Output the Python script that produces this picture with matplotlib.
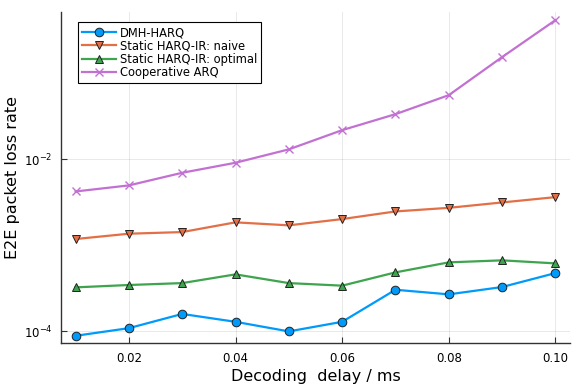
import matplotlib
matplotlib.use("Agg")
import matplotlib.pyplot as plt
from matplotlib.ticker import FixedLocator, NullLocator, LogFormatterMathtext

delay = [0.01, 0.02, 0.03, 0.04, 0.05, 0.06, 0.07, 0.08, 0.09, 0.10]
dmh_harq = [8.8e-5, 1.08e-4, 1.58e-4, 1.28e-4, 9.9e-5, 1.28e-4, 3.02e-4, 2.67e-4, 3.25e-4, 4.72e-4]
static_naive = [1.175e-3, 1.355e-3, 1.416e-3, 1.837e-3, 1.695e-3, 2.005e-3, 2.46e-3, 2.71e-3, 3.13e-3, 3.61e-3]
static_optimal = [3.22e-4, 3.43e-4, 3.61e-4, 4.56e-4, 3.61e-4, 3.37e-4, 4.81e-4, 6.29e-4, 6.64e-4, 6.12e-4]
coop_arq = [4.2e-3, 4.94e-3, 6.93e-3, 9.06e-3, 1.297e-2, 2.17e-2, 3.33e-2, 5.54e-2, 0.1535, 0.413]

labels = ["DMH-HARQ", "Static HARQ-IR: naive", "Static HARQ-IR: optimal", "Cooperative ARQ"]
colors = ["#009AFA", "#E36F47", "#3EA44E", "#C271D2"]
markers = ["o", "v", "^", "x"]
xticks = [0.02, 0.04, 0.06, 0.08, 0.10]
xticklabels = ["0.02", "0.04", "0.06", "0.08", "0.10"]
yticks = [1e-4, 1e-2]

fig = plt.figure(figsize=(5.81, 3.88), dpi=100)
ax = fig.add_axes([0.105, 0.1147, 0.876, 0.854])

series = [dmh_harq, static_naive, static_optimal, coop_arq]
for s, lab, c, m in zip(series, labels, colors, markers):
    if m == "x":
        ax.plot(delay, s, color=c, lw=1.6, marker=m, ms=6, mec=c, mew=1.0, label=lab, zorder=3)
    else:
        ax.plot(delay, s, color=c, lw=1.6, marker=m, ms=6.2, mfc=c, mec="#222222", mew=0.7, label=lab, zorder=3)

ax.set_yscale("log")
ax.set_xlim(0.00727, 0.10273)
ax.set_ylim(10**-4.145, 10**-0.291)
ax.xaxis.set_major_locator(FixedLocator(xticks))
ax.set_xticks(xticks)
ax.set_xticklabels(xticklabels)
ax.yaxis.set_major_locator(FixedLocator(yticks))
ax.yaxis.set_major_formatter(LogFormatterMathtext())
ax.yaxis.set_minor_locator(NullLocator())

ax.grid(True, color="black", alpha=0.1, lw=0.6)
ax.set_axisbelow(True)
for sp in ["top", "right"]:
    ax.spines[sp].set_visible(False)
for sp in ["left", "bottom"]:
    ax.spines[sp].set_color("#333333")
    ax.spines[sp].set_linewidth(1.0)
ax.tick_params(direction="in", length=4, width=0.8, color="#333333", labelsize=8.5, pad=6)

ax.set_xlabel("Decoding  delay / ms", fontsize=11.5, labelpad=3)
ax.set_ylabel("E2E packet loss rate", fontsize=11.5, labelpad=3)

leg = ax.legend(loc="upper left", bbox_to_anchor=(0.033, 0.97), fontsize=8.3, frameon=True,
                fancybox=False, edgecolor="black", framealpha=1, handlelength=3.0,
                handletextpad=0.3, borderpad=0.35, labelspacing=0.02, borderaxespad=0)
leg.get_frame().set_linewidth(0.8)

fig.savefig("out.png", dpi=100)
